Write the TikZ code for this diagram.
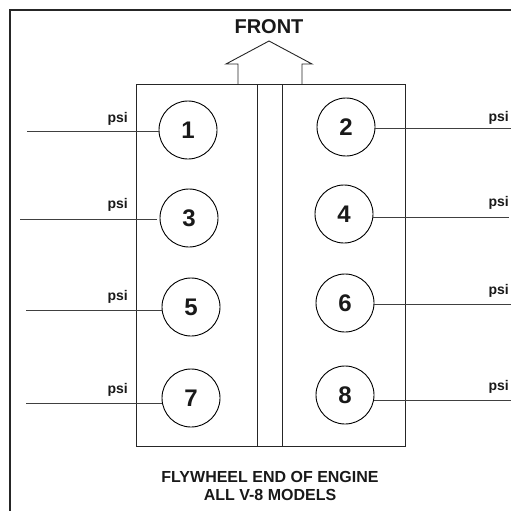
\documentclass[tikz,border=0pt]{standalone}
\usepackage{fontspec}
\setmainfont{Liberation Sans}
\usepackage{tikz}

\begin{document}
\begin{tikzpicture}[x=1pt, y=-1pt, line join=miter,
  cyl/.style={draw, circle, line width=0.9pt, minimum size=58pt, inner sep=0pt,
    font=\fontsize{24}{24}\selectfont\bfseries},
  psilab/.style={inner sep=0pt, font=\fontsize{14}{14}\selectfont\bfseries},
  lead/.style={line width=0.8pt, black!75},
  every node/.style={text=black!90}]
\useasboundingbox (0,0) rectangle (511,511);
% outer frame
\draw[line width=2.2pt, black!85] (10,511) -- (10,10) -- (511,10);
% block and valley
\draw[line width=1pt, black!85] (136,84) rectangle (405,446);
\draw[line width=1pt, black!85] (257,84) -- (257,446) (282,84) -- (282,446);
% front arrow
\draw[line width=0.9pt, black!85] (238,84) -- (238,64) -- (226,64) -- (269,41)
  -- (312,64) -- (302,64) -- (302,84);
\node[font=\fontsize{20}{20}\selectfont\bfseries] (front) at (269,27) {FRONT};
% cylinders
\node[cyl] (c1) at (188,130) {1};
\node[cyl] (c2) at (346,127) {2};
\node[cyl] (c3) at (189,218) {3};
\node[cyl] (c4) at (344,214) {4};
\node[cyl] (c5) at (191,307) {5};
\node[cyl] (c6) at (345,303) {6};
\node[cyl] (c7) at (191,398) {7};
\node[cyl] (c8) at (345,395) {8};
% gauge leads, left bank
\coordinate (l1) at (27,131);
\coordinate (l3) at (20,219);
\coordinate (l5) at (26,310);
\coordinate (l7) at (26,403);
\draw[lead] (l1) -- (c1.west |- l1);
\draw[lead] (l3) -- ([xshift=-3pt]c3.west |- l3);
\draw[lead] (l5) -- (c5.west |- l5);
\draw[lead] (l7) -- (c7.west |- l7);
\node[psilab, anchor=east] (p1) at (128,119) {psi};
\node[psilab, anchor=east] (p3) at (128,205) {psi};
\node[psilab, anchor=east] (p5) at (128,297) {psi};
\node[psilab, anchor=east] (p7) at (128,390) {psi};
% gauge leads, right bank
\coordinate (r2) at (511,128);
\coordinate (r4) at (509,217);
\coordinate (r6) at (511,304);
\coordinate (r8) at (511,400);
\draw[lead] (c2.east |- r2) -- (r2);
\draw[lead] (c4.east |- r4) -- (r4);
\draw[lead] (c6.east |- r6) -- (r6);
\draw[lead] (c8.east |- r8) -- (r8);
\node[psilab, anchor=east] (p2) at (509,118) {psi};
\node[psilab, anchor=east] (p4) at (509,203) {psi};
\node[psilab, anchor=east] (p6) at (509,291) {psi};
\node[psilab, anchor=east] (p8) at (509,387) {psi};
% caption
\node[font=\fontsize{16}{18}\selectfont\bfseries, align=center] (cap) at (270,486)
  {FLYWHEEL END OF ENGINE\\ALL V-8 MODELS};
\end{tikzpicture}
\end{document}
